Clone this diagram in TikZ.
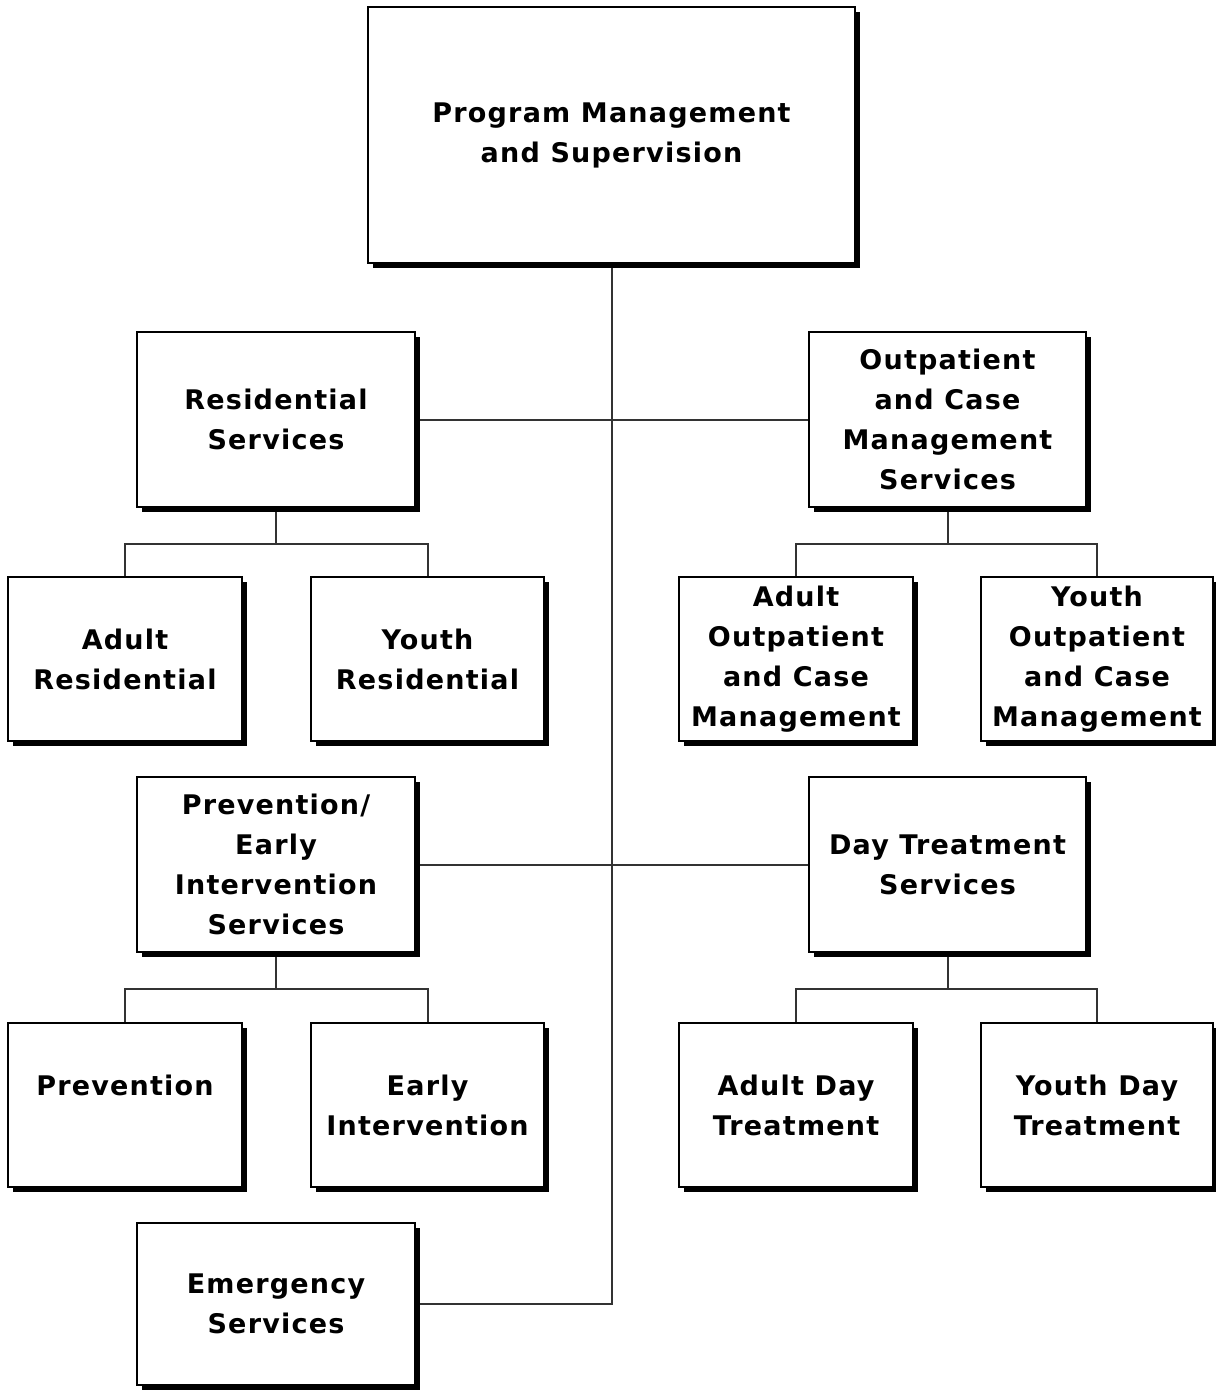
\documentclass[tikz,border=0pt]{standalone}
\usepackage{fontspec}
\newfontfamily\boxfont{DejaVu Sans}[LetterSpace=4.5]
\usetikzlibrary{shadows,backgrounds}
\tikzset{
  orgbox/.style={draw=black, line width=1.3pt, fill=white, inner sep=0pt,
    align=center, font=\boxfont\bfseries\fontsize{27}{40}\selectfont,
    drop shadow={shadow xshift=5pt, shadow yshift=-5pt, fill=black, opacity=1}},
  link/.style={draw=black!80, line width=2pt}
}
\begin{document}
\begin{tikzpicture}[x=1pt,y=-1pt]
\useasboundingbox (0,0) rectangle (1215,1391);
% top
\node[orgbox, minimum width=487pt, minimum height=256pt] (top) at (611.5,135) {Program Management\\and Supervision};
% second level
\node[orgbox, minimum width=278pt, minimum height=175pt] (res) at (276,419.5) {Residential\\Services};
\node[orgbox, minimum width=277pt, minimum height=175pt] (out) at (947.5,419.5) {Outpatient\\and Case\\Management\\Services};
\node[orgbox, minimum width=278pt, minimum height=175pt] (pei) at (276,864.5) {Prevention/\\Early\\Intervention\\Services};
\node[orgbox, minimum width=277pt, minimum height=175pt] (day) at (947.5,864.5) {Day Treatment\\Services};
\node[orgbox, minimum width=278pt, minimum height=162pt] (emg) at (276,1304) {Emergency\\Services};
% third level
\node[orgbox, minimum width=234pt, minimum height=164pt] (ares) at (125,659) {Adult\\Residential};
\node[orgbox, minimum width=233pt, minimum height=164pt] (yres) at (427.5,659) {Youth\\Residential};
\node[orgbox, minimum width=234pt, minimum height=164pt] (aout) at (796,659) {Adult\\Outpatient\\and Case\\Management};
\node[orgbox, minimum width=232pt, minimum height=164pt] (yout) at (1097,659) {Youth\\Outpatient\\and Case\\Management};
\node[orgbox, minimum width=234pt, minimum height=164pt] (prv) at (125,1105) {Prevention\\\mbox{}};
\node[orgbox, minimum width=233pt, minimum height=164pt] (eint) at (427.5,1105) {Early\\Intervention};
\node[orgbox, minimum width=234pt, minimum height=164pt] (aday) at (796,1105) {Adult Day\\Treatment};
\node[orgbox, minimum width=232pt, minimum height=164pt] (yday) at (1097,1105) {Youth Day\\Treatment};
\begin{scope}[on background layer]
\fill[white] (0,0) rectangle (1215,1391);
% trunk
\draw[link] (top.south) |- (emg.east);
\draw[link] (res.east) -- (out.west);
\draw[link] (pei.east) -- (day.west);
% branches
\draw[link] (res.south) -- +(0,36) coordinate (rj);
\draw[link] (ares.north) |- (rj) -| (yres.north);
\draw[link] (out.south) -- +(0,36) coordinate (oj);
\draw[link] (aout.north) |- (oj) -| (yout.north);
\draw[link] (pei.south) -- +(0,36) coordinate (pj);
\draw[link] (prv.north) |- (pj) -| (eint.north);
\draw[link] (day.south) -- +(0,36) coordinate (dj);
\draw[link] (aday.north) |- (dj) -| (yday.north);
\end{scope}
\end{tikzpicture}
\end{document}
